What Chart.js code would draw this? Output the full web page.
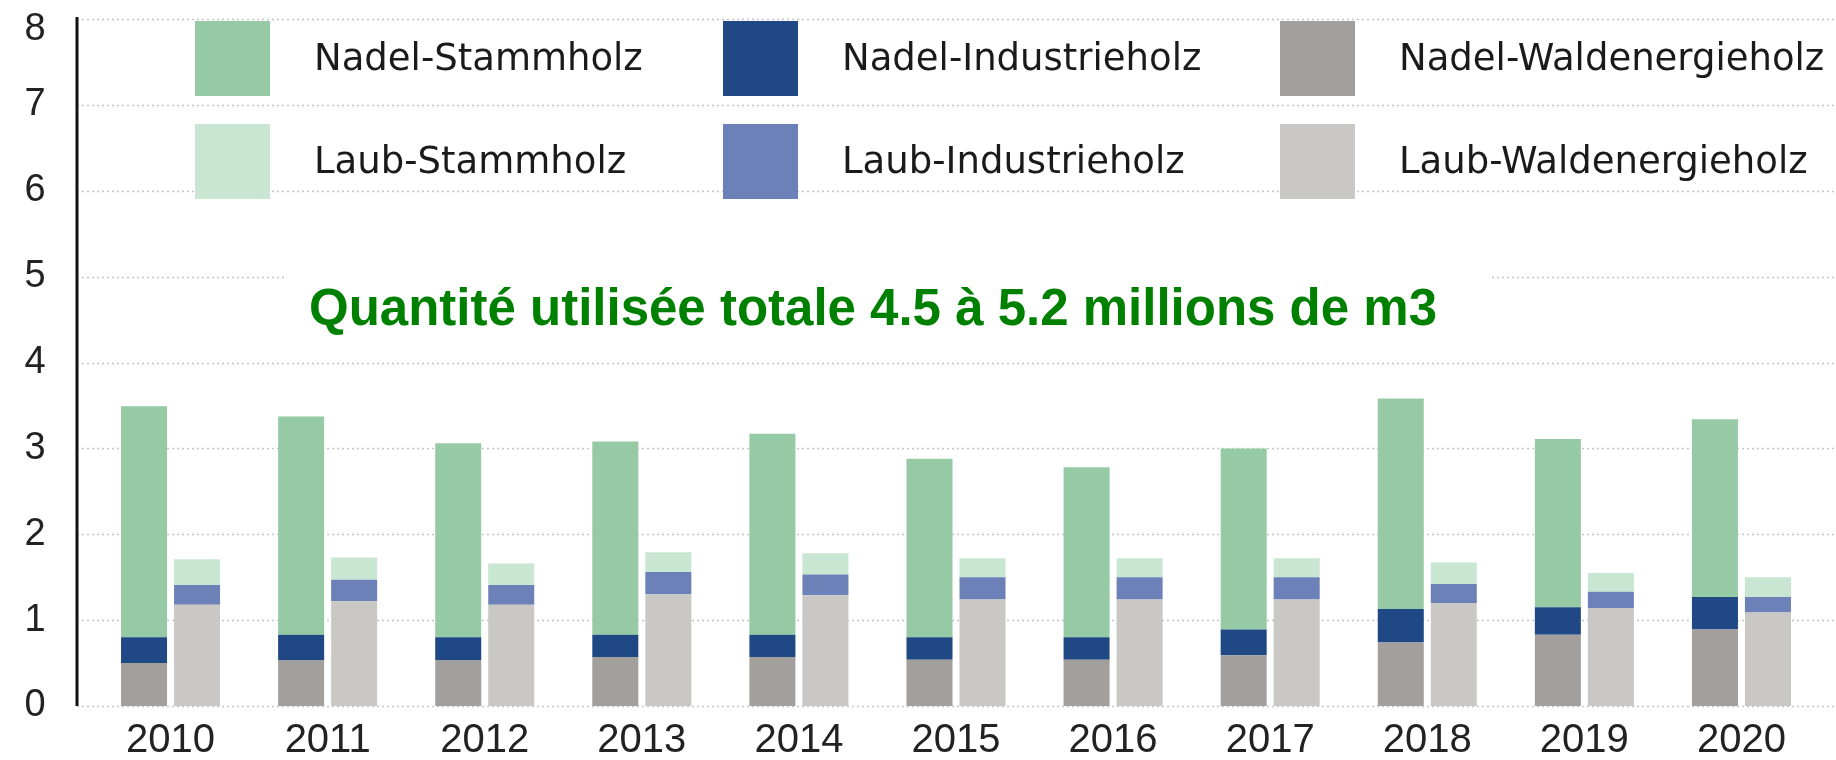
<!DOCTYPE html>
<html>
<head>
<meta charset="utf-8">
<script src="https://cdn.jsdelivr.net/npm/chart.js@4/dist/chart.umd.min.js"></script>
<style>
  html, body { margin: 0; padding: 0; background: #fff; }
  #wrap { width: 1836px; height: 760px; }
</style>
</head>
<body>
<div id="wrap"><canvas id="chart" width="1836" height="760"></canvas></div>
<script>
// Jahre
const years = ['2010', '2011', '2012', '2013', '2014', '2015', '2016', '2017', '2018', '2019', '2020'];

// Nadelholz (Mio. m3)
const nadelWaldenergie = [0.50, 0.53, 0.53, 0.57, 0.57, 0.54, 0.54, 0.59, 0.74, 0.83, 0.89];
const nadelIndustrie   = [0.30, 0.30, 0.27, 0.26, 0.26, 0.26, 0.26, 0.30, 0.39, 0.32, 0.38];
const nadelStamm       = [2.69, 2.54, 2.26, 2.25, 2.34, 2.08, 1.98, 2.11, 2.45, 1.96, 2.07];

// Laubholz (Mio. m3)
const laubWaldenergie = [1.18, 1.22, 1.18, 1.30, 1.29, 1.24, 1.24, 1.24, 1.20, 1.14, 1.09];
const laubIndustrie   = [0.23, 0.25, 0.23, 0.26, 0.24, 0.26, 0.26, 0.26, 0.22, 0.19, 0.18];
const laubStamm       = [0.30, 0.26, 0.25, 0.23, 0.25, 0.22, 0.22, 0.22, 0.25, 0.22, 0.23];

const yTicks = [0, 1, 2, 3, 4, 5, 6, 7, 8];
const note = 'Quantité utilisée totale 4.5 à 5.2 millions de m3';

// Legende: 2 Zeilen x 3 Spalten
const legendRows = [
    ['Nadel-Stammholz', 'Nadel-Industrieholz', 'Nadel-Waldenergieholz'],
    ['Laub-Stammholz', 'Laub-Industrieholz', 'Laub-Waldenergieholz']
];

const colors = {
    'Nadel-Stammholz': '#96caa5',
    'Nadel-Industrieholz': '#1f4884',
    'Nadel-Waldenergieholz': '#a29f9c',
    'Laub-Stammholz': '#c8e6d1',
    'Laub-Industrieholz': '#6c81b7',
    'Laub-Waldenergieholz': '#cac8c4'
};

function ds(label, data, stack) {
    return {
        label: label,
        data: data,
        stack: stack,
        backgroundColor: colors[label],
        borderWidth: 0,
        categoryPercentage: 0.675,
        barPercentage: 0.868
    };
}

// Deko: Gitterlinien, Achse + Beschriftung, Legende, Hinweistext
const decorPlugin = {
    id: 'decor',
    beforeDatasetsDraw(chart) {
        const { ctx, chartArea, scales } = chart;
        const y = scales.y;
        const axisX = chartArea.left - 15;
        ctx.save();
        ctx.strokeStyle = '#c6c6c6';
        ctx.lineWidth = 1.5;
        ctx.setLineDash([2, 3]);
        y.ticks.forEach(t => {
            const py = Math.round(y.getPixelForValue(t.value)) + 0.5;
            ctx.beginPath();
            ctx.moveTo(axisX, py);
            ctx.lineTo(chart.width, py);
            ctx.stroke();
        });
        // weisser Kasten hinter dem Hinweis
        ctx.fillStyle = '#ffffff';
        ctx.fillRect(287, 235, 1203, 115);
        // y-Achse
        ctx.setLineDash([]);
        ctx.strokeStyle = '#111';
        ctx.lineWidth = 3;
        ctx.beginPath();
        ctx.moveTo(axisX, chartArea.top - 2);
        ctx.lineTo(axisX, chartArea.bottom);
        ctx.stroke();
        // y-Beschriftung (links von der Achse, zentriert)
        ctx.font = '38px "Liberation Sans"';
        ctx.fillStyle = '#222';
        ctx.textAlign = 'center';
        ctx.textBaseline = 'middle';
        y.ticks.forEach(t => {
            const py = Math.max(y.getPixelForValue(t.value), 30);
            ctx.fillText(String(t.value), axisX - 42, py);
        });
        ctx.restore();
    },
    afterDatasetsDraw(chart) {
        const { ctx } = chart;
        const colX = [195, 723, 1280];
        const rowY = [21, 124];
        const size = 75;
        ctx.save();
        ctx.font = '37px "DejaVu Sans"';
        ctx.textBaseline = 'middle';
        ctx.textAlign = 'left';
        legendRows.forEach((row, r) => {
            row.forEach((label, c) => {
                const set = chart.data.datasets.find(d => d.label === label);
                ctx.fillStyle = set.backgroundColor;
                ctx.fillRect(colX[c], rowY[r], size, size);
                ctx.fillStyle = '#1a1a1a';
                ctx.fillText(label, colX[c] + 119, rowY[r] + size / 2 + 2);
            });
        });
        ctx.font = 'bold 51px "Liberation Sans"';
        ctx.fillStyle = '#008000';
        ctx.textAlign = 'center';
        ctx.textBaseline = 'alphabetic';
        ctx.fillText(note, 873, 325);
        ctx.restore();
    }
};

new Chart(document.getElementById('chart'), {
    type: 'bar',
    data: {
        labels: years,
        datasets: [
            ds('Nadel-Waldenergieholz', nadelWaldenergie, 'nadel'),
            ds('Nadel-Industrieholz', nadelIndustrie, 'nadel'),
            ds('Nadel-Stammholz', nadelStamm, 'nadel'),
            ds('Laub-Waldenergieholz', laubWaldenergie, 'laub'),
            ds('Laub-Industrieholz', laubIndustrie, 'laub'),
            ds('Laub-Stammholz', laubStamm, 'laub')
        ]
    },
    options: {
        responsive: false,
        devicePixelRatio: 1,
        animation: false,
        layout: { padding: { top: 19, right: 16, left: 0, bottom: 0 } },
        plugins: {
            legend: { display: false },
            tooltip: { enabled: false }
        },
        scales: {
            x: {
                stacked: true,
                grid: { display: false, drawTicks: false },
                border: { display: false },
                ticks: {
                    color: '#222',
                    padding: 11,
                    font: { family: '"Liberation Sans"', size: 40 }
                },
                afterFit(scale) { scale.height = 54; }
            },
            y: {
                stacked: true,
                min: 0,
                max: 8,
                afterBuildTicks(scale) { scale.ticks = yTicks.map(v => ({ value: v })); },
                grid: { display: false },
                border: { display: false },
                ticks: { display: false },
                afterFit(scale) { scale.width = 92; }
            }
        }
    },
    plugins: [decorPlugin]
});
</script>
</body>
</html>
